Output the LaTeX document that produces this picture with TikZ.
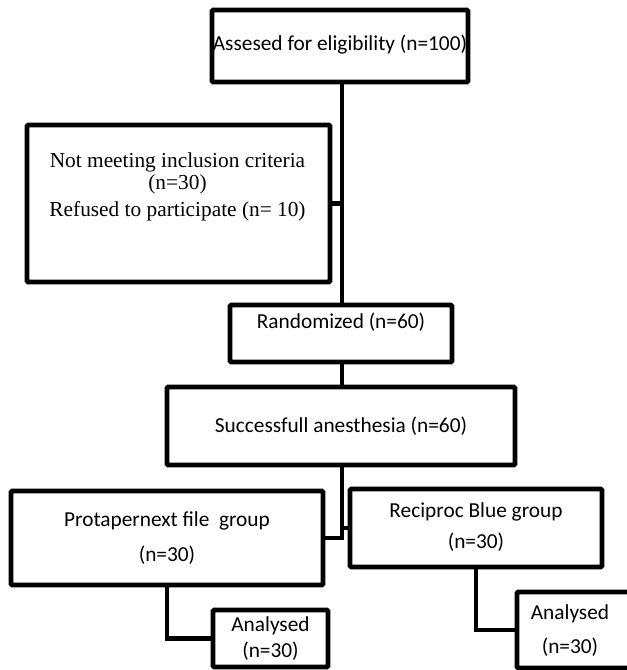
\documentclass[tikz,border=0pt]{standalone}
\usepackage{fontspec}
\setmainfont{Carlito}
\newfontfamily\tnr{Liberation Serif}
\begin{document}
\begin{tikzpicture}[x=0.75pt,y=-0.75pt,
  box/.style 2 args={draw=black, line width=3.6pt, rounded corners=1pt, inner sep=0pt,
     minimum width={#1*0.75pt}, minimum height={#2*0.75pt}},
  link/.style={draw=black, line width=3.6pt},
  sans/.style={inner sep=0pt, font=\fontsize{16pt}{19pt}\selectfont},
  serif/.style={inner sep=0pt, font=\tnr\fontsize{16pt}{19pt}\selectfont}]
\useasboundingbox (0,0) rectangle (627,670);
\coordinate (trunk) at (342,0);
% boxes
\node[box={256}{72}] (A) at (340,46) {};
\node[box={303}{157}] (X) at (178.5,203.5) {};
\node[box={222}{57}] (R) at (341,333.5) {};
\node[box={348}{78}] (S) at (341,426) {};
\node[box={312}{94}] (P) at (167,538) {};
\node[box={252}{78}] (B) at (476,528) {};
\node[box={115}{57}] (L) at (270.5,638.5) {};
\node[box={130}{76}] (Q) at (582,630) {};
% texts
\node[sans] (tA) at (340,45) {Assesed for eligibility (n=100)};
\node[serif] (tX1) at (177.5,162) {Not meeting inclusion criteria};
\node[serif] (tX2) at (177.5,184) {(n=30)};
\node[serif] (tX3) at (177.5,211) {Refused to participate (n= 10)};
\node[sans] (tR) at (341,322) {Randomized (n=60)};
\node[sans] (tS) at (341,426) {Successfull anesthesia (n=60)};
\node[sans] (tP1) at (167,521) {Protapernext file\ \ group};
\node[sans] (tP2) at (167,555) {(n=30)};
\node[sans] (tB1) at (476,512) {Reciproc Blue group};
\node[sans] (tB2) at (476,542) {(n=30)};
\node[sans] (tL1) at (270.5,626) {Analysed};
\node[sans] (tL2) at (270.5,651) {(n=30)};
\node[sans] (tQ1) at (570,614) {Analysed};
\node[sans] (tQ2) at (570,647) {(n=30)};
% connectors
\draw[link] (A.south -| trunk) -- (R.north -| trunk);
\draw[link] (X.east) -- (X.east -| trunk);
\draw[link] (R.south -| trunk) -- (S.north -| trunk);
\draw[link] (S.south -| trunk) |- (P.east);
\draw[link] (B.west -| trunk) -- (B.west);
\draw[link] (P.south) |- (L.west);
\draw[link] (B.south) |- (Q.west);
\end{tikzpicture}
\end{document}
